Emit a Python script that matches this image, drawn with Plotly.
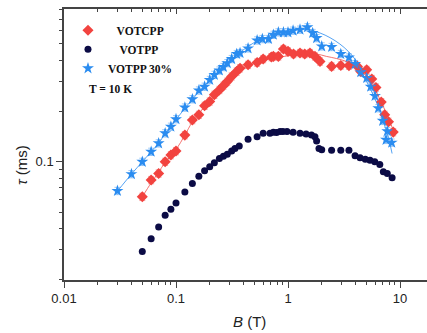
import numpy as np
import plotly.graph_objects as go

# Magnetic field (T) and relaxation time tau (ms) at T = 10 K
b_votcpp = [0.05, 0.06, 0.07, 0.08, 0.09, 0.10, 0.12, 0.14, 0.16, 0.18, 0.20, 0.22,
            0.244, 0.265, 0.287, 0.314, 0.348, 0.373, 0.44, 0.53, 0.60, 0.71, 0.74,
            0.82, 0.91, 1.00, 1.12, 1.28, 1.41, 1.57, 1.74, 1.93, 2.45, 2.96, 3.5,
            4.17, 4.46, 5.04, 5.6, 6.1, 6.8, 7.3, 7.9, 8.7]
tau_votcpp = [0.062, 0.078, 0.0853, 0.100, 0.1096, 0.1158, 0.144, 0.177, 0.190, 0.215,
              0.228, 0.250, 0.267, 0.283, 0.299, 0.321, 0.343, 0.359, 0.376, 0.388,
              0.407, 0.418, 0.422, 0.422, 0.467, 0.452, 0.436, 0.442, 0.436, 0.442,
              0.422, 0.394, 0.368, 0.373, 0.372, 0.368, 0.343, 0.351, 0.310, 0.276,
              0.226, 0.190, 0.173, 0.150]

b_votpp = [0.05, 0.06, 0.07, 0.08, 0.09, 0.10, 0.12, 0.14, 0.16, 0.18, 0.20, 0.22,
           0.244, 0.265, 0.287, 0.314, 0.336, 0.367, 0.44, 0.53, 0.60, 0.69, 0.74,
           0.79, 0.85, 0.90, 0.98, 1.11, 1.28, 1.45, 1.62, 1.74, 1.80, 1.89, 2.0,
           2.45, 2.96, 3.5, 3.97, 4.4, 4.9, 5.4, 5.95, 6.6, 7.1, 7.7, 8.5]
tau_votpp = [0.0294, 0.035, 0.041, 0.0482, 0.0523, 0.057, 0.0663, 0.0743, 0.0822,
             0.0884, 0.0934, 0.0987, 0.1047, 0.108, 0.111, 0.116, 0.120, 0.124, 0.136,
             0.141, 0.1476, 0.1476, 0.1496, 0.149, 0.151, 0.151, 0.151, 0.1496, 0.1476,
             0.146, 0.144, 0.141, 0.133, 0.120, 0.118, 0.117, 0.117, 0.117, 0.1085,
             0.1056, 0.1037, 0.102, 0.100, 0.0965, 0.0872, 0.0853, 0.0803]

b_votpp30 = [0.03, 0.04, 0.05, 0.06, 0.07, 0.08, 0.09, 0.10, 0.12, 0.14, 0.16, 0.18,
             0.20, 0.22, 0.244, 0.265, 0.287, 0.314, 0.348, 0.373, 0.44, 0.53, 0.59,
             0.67, 0.74, 0.82, 0.91, 1.00, 1.11, 1.28, 1.49, 1.66, 1.80, 2.0, 2.45,
             2.96, 3.5, 3.97, 4.46, 5.04, 5.47, 5.98, 6.4, 7.0, 7.5, 7.7, 8.43]
tau_votpp30 = [0.0672, 0.0845, 0.100, 0.1147, 0.1287, 0.1476, 0.1615, 0.179, 0.210,
               0.235, 0.265, 0.279, 0.306, 0.328, 0.348, 0.365, 0.385, 0.407, 0.436,
               0.442, 0.471, 0.525, 0.535, 0.535, 0.567, 0.586, 0.586, 0.586, 0.600,
               0.608, 0.628, 0.581, 0.542, 0.484, 0.480, 0.436, 0.416, 0.380, 0.340,
               0.314, 0.279, 0.246, 0.208, 0.175, 0.135, 0.152, 0.130]

# Model fit curves
b_fit_votcpp = [0.05, 0.06, 0.07, 0.08, 0.10, 0.12, 0.14, 0.20, 0.30, 0.40, 0.60, 1.0,
                1.5, 1.8, 2.2, 2.7, 3.3, 4.1, 4.9, 5.8, 6.8, 7.9, 8.7]
tau_fit_votcpp = [0.062, 0.075, 0.087, 0.099, 0.118, 0.144, 0.172, 0.230, 0.305, 0.360,
                  0.400, 0.425, 0.435, 0.436, 0.422, 0.410, 0.394, 0.363, 0.328, 0.279,
                  0.226, 0.181, 0.154]
b_fit_votpp30 = [0.03, 0.04, 0.05, 0.06, 0.07, 0.08, 0.10, 0.14, 0.20, 0.30, 0.50, 0.80,
                 1.0, 1.49, 1.93, 2.37, 2.9, 3.45, 4.1, 4.7, 5.4, 6.2, 7.1, 7.9, 8.5]
tau_fit_votpp30 = [0.067, 0.0845, 0.100, 0.115, 0.129, 0.147, 0.178, 0.235, 0.305, 0.395,
                   0.510, 0.575, 0.595, 0.608, 0.581, 0.545, 0.500, 0.452, 0.394, 0.328,
                   0.273, 0.223, 0.173, 0.138, 0.112]

x_ticks = [0.01, 0.1, 1, 10]
x_tick_text = ["0.01", "0.1", "1", "10"]
y_ticks = [0.1]
y_tick_text = ["0.1"]

RED = "#F2433F"
NAVY = "#0B0B45"
BLUE = "#2A8CF0"
AXIS = "#444444"

x_minor = [m * d for d in (0.01, 0.1, 1) for m in range(2, 10)]
y_minor = [m * 0.01 for m in range(2, 10)] + [m * 0.1 for m in range(2, 9)]

xr = [-2, 1.241]
yr = [np.log10(0.0199), np.log10(0.806)]

fig = go.Figure()

fig.add_trace(go.Scatter(
    x=b_votcpp, y=tau_votcpp, mode="markers", name="\u00a0\u00a0\u00a0VOTCPP",
    marker=dict(symbol="diamond", size=8.5, color=RED),
    error_y=dict(type="percent", value=5, color="rgba(242,67,63,0.45)", thickness=1, width=3),
))
fig.add_trace(go.Scatter(
    x=b_votpp, y=tau_votpp, mode="markers", name="\u00a0\u00a0\u00a0\u00a0VOTPP",
    marker=dict(symbol="circle", size=7, color=NAVY),
))
fig.add_trace(go.Scatter(
    x=b_votpp30, y=tau_votpp30, mode="markers", name="VOTPP 30%",
    marker=dict(symbol="star", size=9, color=BLUE),
    error_y=dict(type="percent", value=5, color="rgba(42,140,240,0.45)", thickness=1, width=3),
))

# fit curves on the overlaid top axis (same log scale and range)
fig.add_trace(go.Scatter(
    x=b_fit_votcpp, y=tau_fit_votcpp, mode="lines", xaxis="x2", showlegend=False,
    line=dict(color="rgba(242,67,63,0.75)", width=1, shape="spline"), hoverinfo="skip",
))
fig.add_trace(go.Scatter(
    x=b_fit_votpp30, y=tau_fit_votpp30, mode="lines", xaxis="x2", showlegend=False,
    line=dict(color="rgba(42,140,240,0.8)", width=1, shape="spline"), hoverinfo="skip",
))

axis_font = dict(family="Liberation Sans, Arial, sans-serif", size=13, color="#222222")

fig.update_layout(
    width=427, height=333,
    margin=dict(l=64, r=0, t=9, b=53),
    paper_bgcolor="white", plot_bgcolor="white",
    showlegend=True,
    legend=dict(
        x=0.011, y=0.975, xanchor="left", yanchor="top",
        bgcolor="rgba(0,0,0,0)", borderwidth=0,
        font=dict(family="Liberation Serif, Times New Roman, serif", size=11.5,
                  color="#111111", weight="bold"),
        itemwidth=30,
    ),
    xaxis=dict(
        type="log", range=xr, showgrid=False, zeroline=False,
        showline=True, linecolor=AXIS, linewidth=1.5,
        tickmode="array", tickvals=x_ticks, ticktext=x_tick_text,
        ticks="outside", ticklen=6, tickwidth=1, tickcolor=AXIS,
        tickfont=axis_font,
        minor=dict(tickmode="array", tickvals=x_minor, ticks="outside", ticklen=3,
                   tickwidth=1, tickcolor=AXIS, showgrid=False),
    ),
    xaxis2=dict(
        type="log", range=xr, overlaying="x", side="top", anchor="y",
        showgrid=False, zeroline=False, showline=True, linecolor=AXIS, linewidth=1.5,
        tickmode="array", tickvals=x_ticks, showticklabels=False,
        ticks="inside", ticklen=5, tickwidth=1, tickcolor=AXIS,
        minor=dict(tickmode="array", tickvals=x_minor, ticks="inside", ticklen=3,
                   tickwidth=1, tickcolor=AXIS, showgrid=False),
    ),
    yaxis=dict(
        type="log", range=yr, showgrid=False, zeroline=False,
        showline=True, linecolor=AXIS, linewidth=1.5,
        tickmode="array", tickvals=y_ticks, ticktext=y_tick_text,
        ticks="outside", ticklen=6, tickwidth=1, tickcolor=AXIS,
        tickfont=axis_font,
        minor=dict(tickmode="array", tickvals=y_minor, ticks="outside", ticklen=3,
                   tickwidth=1, tickcolor=AXIS, showgrid=False),
    ),
)

title_font = dict(family="Liberation Sans, Arial, sans-serif", size=15, color="#222222")
fig.add_annotation(
    text="<i>B</i> (T)", xref="paper", yref="paper",
    x=(249 - 64) / 363, y=-(321 - 280) / 271, xanchor="center", yanchor="middle",
    showarrow=False, font=title_font,
)
fig.add_annotation(
    text="<i>τ</i> (ms)", xref="paper", yref="paper", textangle=-90,
    x=-(64 - 21) / 363, y=1 - (165 - 9) / 271, xanchor="center", yanchor="middle",
    showarrow=False, font=title_font,
)
fig.add_annotation(
    text="<b>T = 10 K</b>", xref="paper", yref="paper",
    x=(87 - 64) / 363, y=1 - (89 - 9) / 271, xanchor="left", yanchor="middle",
    showarrow=False,
    font=dict(family="Liberation Serif, Times New Roman, serif", size=11.5, color="#111111"),
)

fig.write_html("out.html")
